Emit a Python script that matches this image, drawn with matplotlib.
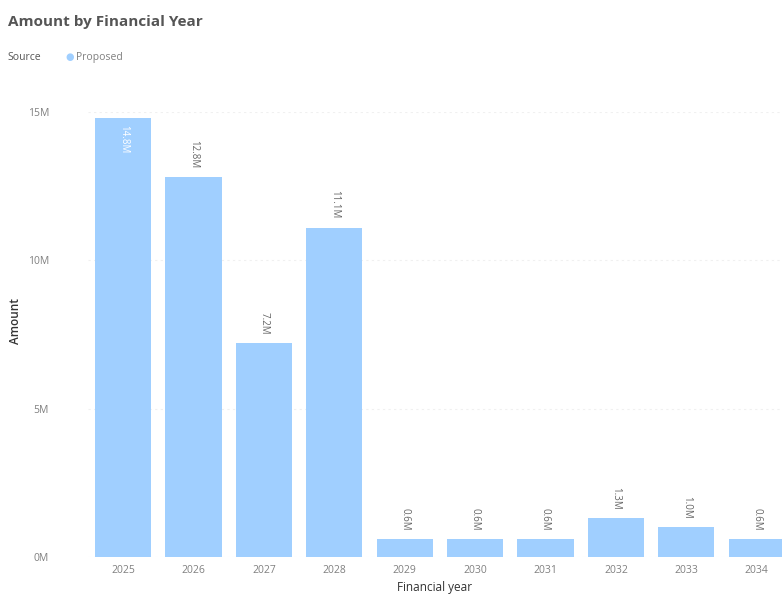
import matplotlib.pyplot as plt
from matplotlib.ticker import FuncFormatter

# DATA
years = ["2025", "2026", "2027", "2028", "2029", "2030", "2031", "2032", "2033", "2034"]
amounts_m = [14.8, 12.8, 7.2, 11.1, 0.6, 0.6, 0.6, 1.3, 1.0, 0.6]
bar_labels = ["14.8M", "12.8M", "7.2M", "11.1M", "0.6M", "0.6M", "0.6M", "1.3M", "1.0M", "0.6M"]
yticks_m = [0, 5, 10, 15]

bar_color = "#A0CFFF"
plt.rcParams["font.family"] = ["Open Sans", "DejaVu Sans"]

fig = plt.figure(figsize=(7.82, 5.99), dpi=100)
ax = fig.add_axes([0.1125, 0.070, 0.8875, 0.743])

x = list(range(len(years)))
values = [v * 1e6 for v in amounts_m]
bars = ax.bar(x, values, width=0.8, color=bar_color, zorder=2)

# LABELS ON BARS
for i, (b, lab) in enumerate(zip(bars, bar_labels)):
    h = b.get_height()
    if i == 0:
        ax.text(b.get_x() + b.get_width() / 2, h - 0.25e6, lab, rotation=270,
                ha="center", va="top", fontsize=7, color="white")
    else:
        ax.text(b.get_x() + b.get_width() / 2, h + 0.3e6, lab, rotation=270,
                ha="center", va="bottom", fontsize=7, color="#666666")

# AXES
ax.set_xlim(-0.5, 9.36)
ax.set_ylim(0, 15e6)
ax.set_yticks([t * 1e6 for t in yticks_m])
ax.yaxis.set_major_formatter(FuncFormatter(lambda v, p: f"{v / 1e6:.0f}M"))
ax.set_xticks(x)
ax.set_xticklabels(years)
ax.tick_params(axis="both", length=0, labelsize=7.5, colors="#808080")
ax.tick_params(axis="y", pad=28)
ax.tick_params(axis="x", pad=6)
for s in ax.spines.values():
    s.set_visible(False)
ax.grid(axis="y", color="#F0F0F0", linestyle=(0, (2, 3)), linewidth=0.8, zorder=0)

ax.set_xlabel("Financial year", fontsize=8.5, color="#333333", labelpad=3)
ax.set_ylabel("Amount", fontsize=8.5, color="#333333", labelpad=6, fontweight="semibold")
ax.yaxis.set_label_coords(-0.095, 0.53)

# TITLE AND LEGEND
fig.text(0.010, 0.963, "Amount by Financial Year", fontsize=11, fontweight="bold",
         color="#555555", va="center")
fig.text(0.010, 0.904, "Source", fontsize=7.5, color="#555555", va="center")
fig.text(0.084, 0.904, "\u25CF", fontsize=7, color=bar_color, va="center")
fig.text(0.097, 0.904, "Proposed", fontsize=7.5, color="#808080", va="center")

plt.savefig("out.png", dpi=100)
